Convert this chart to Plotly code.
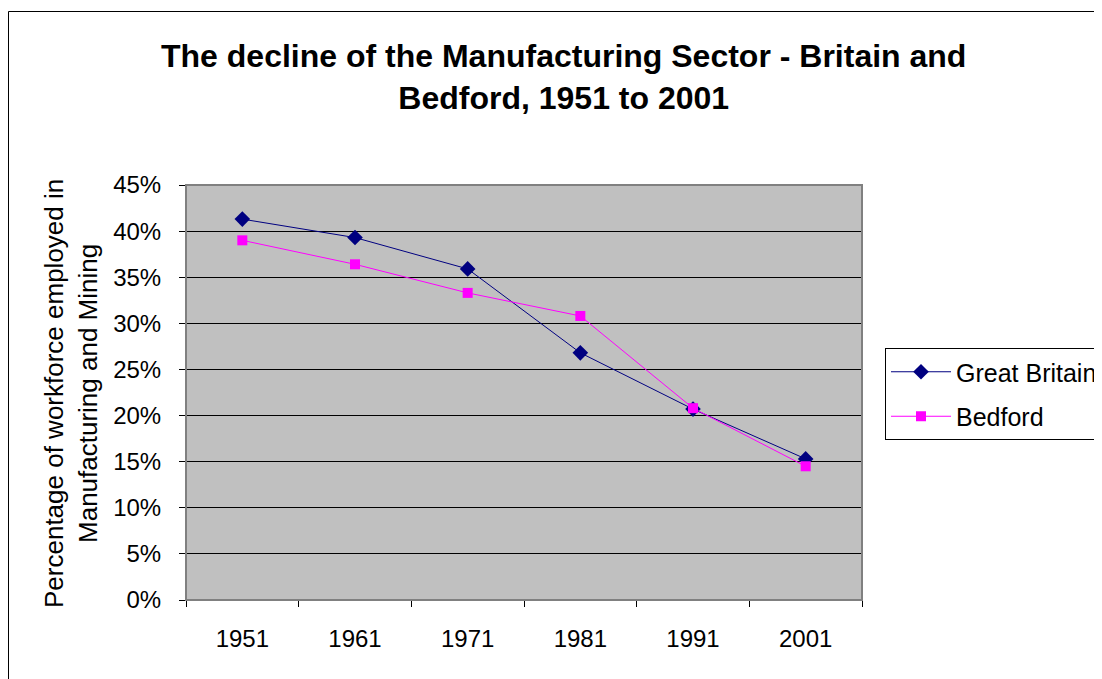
import plotly.graph_objects as go

years = ["1951", "1961", "1971", "1981", "1991", "2001"]
great_britain = [0.413, 0.393, 0.359, 0.268, 0.207, 0.153]
bedford = [0.390, 0.364, 0.333, 0.308, 0.208, 0.145]
y_ticks = [0, 0.05, 0.10, 0.15, 0.20, 0.25, 0.30, 0.35, 0.40, 0.45]

FONT = "Liberation Sans, Arial, sans-serif"

# page body has an 8px margin: work in screen pixels, convert to figure pixels
OFF = 8
W, H = 1102 - OFF, 679 - OFF
PL, PR, PT, PB = 186, 862, 185, 600  # plot area in screen px

L, T = PL - OFF, PT - OFF
PW, PH = PR - PL, PB - PT
R, B = W - L - PW, H - T - PH


def px_x(p):
    return (p - PL) / PW


def px_y(p):
    return (PB - p) / PH


fig = go.Figure()
fig.add_trace(go.Scatter(
    x=years, y=great_britain, name="Great Britain", mode="lines+markers",
    legendgroup="gb",
    line=dict(color="#000080", width=1),
    marker=dict(symbol="diamond", size=12, color="#000080"),
))
fig.add_trace(go.Scatter(
    x=years, y=bedford, name="Bedford", mode="lines+markers",
    legendgroup="bd",
    line=dict(color="#FF00FF", width=1),
    marker=dict(symbol="square", size=10, color="#FF00FF"),
))

fig.update_layout(
    width=W, height=H,
    margin=dict(l=L, r=R, t=T, b=B, pad=0, autoexpand=False),
    paper_bgcolor="white",
    plot_bgcolor="#C0C0C0",
    font=dict(family=FONT, color="black", size=24),
    showlegend=True,
    legend=dict(
        xref="container", yref="container",
        x=(885 - OFF) / W, y=1 - (348 - OFF) / H, xanchor="left", yanchor="top",
        bgcolor="white", bordercolor="black", borderwidth=1,
        font=dict(size=25, family=FONT, color="black"),
        tracegroupgap=9, itemwidth=60,
    ),
    xaxis=dict(
        type="category", tickson="boundaries", ticks="outside", ticklen=6,
        tickcolor="black", showline=True, linecolor="black", linewidth=1,
        showgrid=False, ticklabelstandoff=17, tickfont=dict(size=24),
        range=[-0.5, 5.5], fixedrange=True,
    ),
    yaxis=dict(
        range=[0, 0.45], tickvals=y_ticks, tickformat=".0%",
        ticks="outside", ticklen=6, tickcolor="black",
        showline=True, linecolor="black", linewidth=1,
        showgrid=True, gridcolor="black", gridwidth=1,
        zeroline=False, ticklabelstandoff=13, tickfont=dict(size=24),
    ),
    shapes=[
        dict(type="rect", xref="paper", yref="paper", x0=0, x1=1, y0=0, y1=1,
             line=dict(color="#808080", width=2), fillcolor="rgba(0,0,0,0)", layer="above"),
        dict(type="rect", xref="paper", yref="paper",
             x0=px_x(8.5), x1=px_x(1300), y0=px_y(11.5), y1=px_y(800),
             line=dict(color="black", width=1), fillcolor="rgba(0,0,0,0)"),
    ],
    annotations=[
        dict(text="<b>The decline of the Manufacturing Sector - Britain and<br>Bedford, 1951 to 2001</b>",
             xref="paper", yref="paper", x=px_x(563), y=px_y(77),
             xanchor="center", yanchor="middle", showarrow=False,
             font=dict(size=32, family=FONT, color="black")),
        dict(text="Percentage of workforce employed in<br>Manufacturing and Mining",
             xref="paper", yref="paper", x=px_x(71), y=px_y(394),
             xanchor="center", yanchor="middle", textangle=-90, showarrow=False,
             font=dict(size=26, family=FONT, color="black")),
    ],
)

fig.write_html("out.html")
